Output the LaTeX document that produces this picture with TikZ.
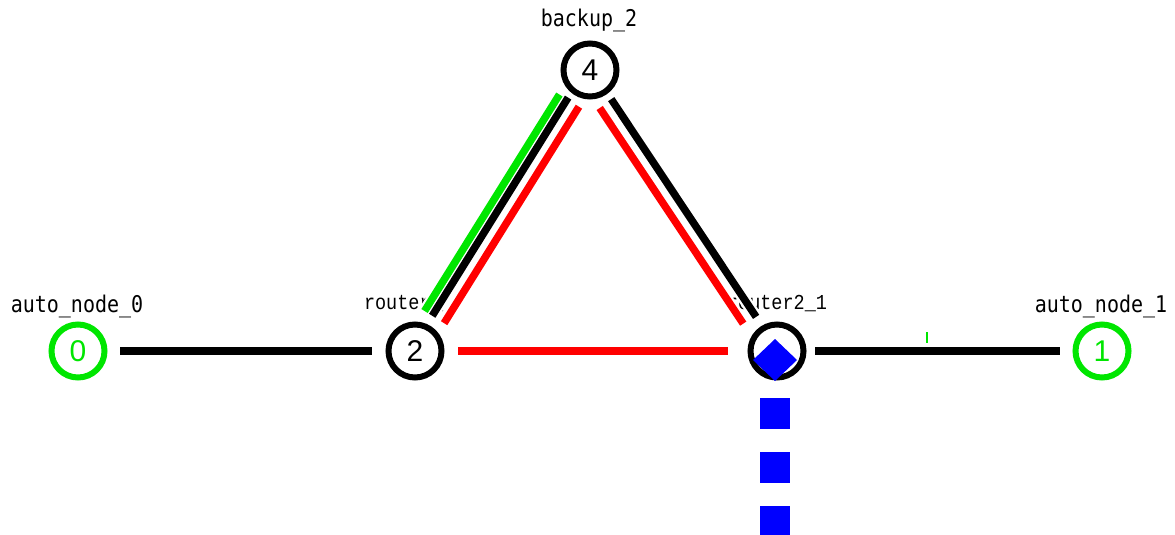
\documentclass[tikz,border=0pt]{standalone}
\usepackage{fontspec}
\setmainfont{Liberation Sans}
\newfontfamily\labmono{DejaVu Sans Mono}
\newfontfamily\routfont{Liberation Mono}
\usetikzlibrary{calc}
\definecolor{nsgreen}{RGB}{0,230,0}
\definecolor{nsred}{RGB}{255,0,0}
\definecolor{nsblue}{RGB}{0,0,255}
\newcommand{\tallish}[1]{\scalebox{1}[1.15]{#1}}
\begin{document}
\begin{tikzpicture}[x=1pt,y=-1pt,
  netnode/.style={circle, draw=black, line width=6pt, minimum size=53pt, inner sep=0pt,
    font=\fontsize{30}{30}\selectfont},
  greennode/.style={netnode, draw=nsgreen, text=nsgreen},
  lab/.style={font=\labmono\fontsize{20}{20}\selectfont, anchor=base, inner sep=0pt},
  rlab/.style={font=\routfont\fontsize{18.5}{20}\selectfont, anchor=base, inner sep=0pt},
  link/.style={line width=7.5pt},
  casing/.style={white, line width=12pt},
  widecasing/.style={white, line width=15pt},
]
\useasboundingbox (0,0) rectangle (1175,535);

% nodes
\node[greennode] (n0) at (78,351) {0};
\node[netnode]   (n2) at (415,351) {2};
\node[netnode]   (n3) at (777,351) {};
\node[greennode] (n1) at (1102,351) {1};
\node[netnode]   (n4) at (590,70) {4};

% labels
\node[lab]  (l0) at (77,312)  {\tallish{auto\_node\_0}};
\node[lab]  (l1) at (1101,312) {\tallish{auto\_node\_1}};
\node[lab]  (l4) at (589,27)  {\tallish{backup\_2}};
\node[rlab] (l2) at (414,309) {\tallish{router2\_0}};
\node[rlab] (l3) at (777,309) {\tallish{router2\_1}};

% horizontal links
\draw[link] ($(n0.center)!42pt!(n2.center)$) -- ($(n2.center)!43pt!(n0.center)$);
\draw[link, nsred] ($(n2.center)!43pt!(n3.center)$) -- ($(n3.center)!49pt!(n2.center)$);
\draw[link] ($(n3.center)!38pt!(n1.center)$) -- ($(n1.center)!42pt!(n3.center)$);

% link 2-4 (green, black, red)
\coordinate (g2) at ($(n2.center)!39pt!(n4.center)!13pt!90:(n4.center)$);
\coordinate (g4) at ($(n4.center)!37pt!(n2.center)!13pt!-90:(n2.center)$);
\coordinate (b2) at ($(n2.center)!39pt!(n4.center)!4pt!90:(n4.center)$);
\coordinate (b4) at ($(n4.center)!35pt!(n2.center)!4pt!-90:(n2.center)$);
\coordinate (r2) at ($(n2.center)!39pt!(n4.center)!-10pt!90:(n4.center)$);
\coordinate (r4) at ($(n4.center)!37pt!(n2.center)!-10pt!-90:(n2.center)$);
% link 4-3 (black, red)
\coordinate (k4) at ($(n4.center)!36pt!(n3.center)!1.5pt!90:(n3.center)$);
\coordinate (k3) at ($(n3.center)!40pt!(n4.center)!1.5pt!-90:(n4.center)$);
\coordinate (s4) at ($(n4.center)!37pt!(n3.center)!-13pt!90:(n3.center)$);
\coordinate (s3) at ($(n3.center)!41.5pt!(n4.center)!-13pt!-90:(n4.center)$);

\draw[widecasing] (r2) -- (r4);
\foreach \a/\b in {g2/g4,b2/b4,k4/k3,s4/s3}
  \draw[casing] (\a) -- (\b);
\draw[link, nsgreen] (g2) -- (g4);
\draw[link] (b2) -- (b4);
\draw[link, nsred] (r2) -- (r4);
\draw[link] (k4) -- (k3);
\draw[link, nsred] (s4) -- (s3);

% small green tick
\coordinate (t1) at (927,332);
\coordinate (t2) at (927,343);
\draw[nsgreen, line width=2.5pt] (t1) -- (t2);

% packet (blue diamond) and dashed blue queue
\fill[nsblue] (753,360) -- (775,339) -- (797,360) -- (775,381) -- cycle;
\coordinate (q0) at (775,398);
\coordinate (q1) at (775,570);
\draw[nsblue, line width=30pt, dash pattern=on 31pt off 23pt] (q0) -- (q1);
\end{tikzpicture}
\end{document}
